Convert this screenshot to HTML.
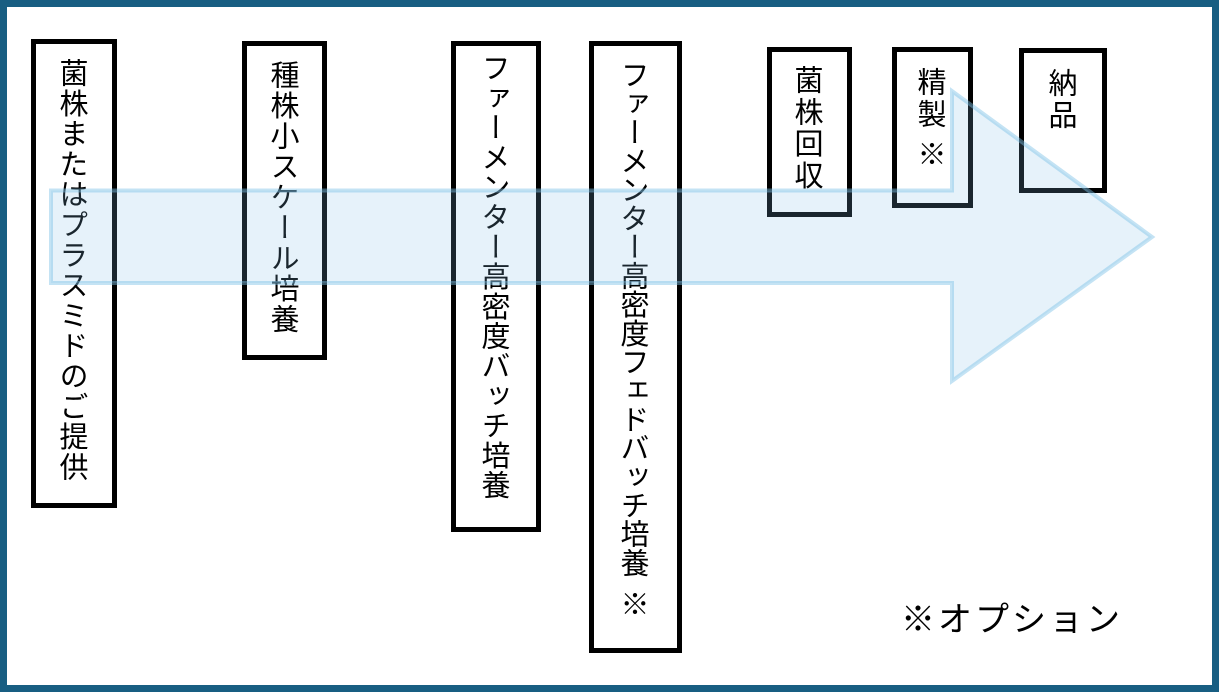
<!DOCTYPE html>
<html lang="ja">
<head>
<meta charset="utf-8">
<style>
  html, body { margin:0; padding:0; }
  body { width:1219px; height:692px; position:relative; overflow:hidden; background:#fff;
    font-family:"Liberation Sans","Noto Sans CJK JP",sans-serif; }
  .frame { position:absolute; left:0; top:0; width:1219px; height:692px; box-sizing:border-box;
    border:7px solid #185e82; }
  .box { position:absolute; box-sizing:border-box; border:5px solid #000; }
  .col { position:absolute; writing-mode:vertical-rl; font-size:29px; line-height:30px; width:30px;
    color:#000; white-space:nowrap; font-family:"Noto Sans CJK JP",sans-serif; }
  .opt { position:absolute; left:901px; top:597px; font-size:34px; line-height:40px; letter-spacing:3px;
    color:#000; white-space:nowrap; font-family:"Noto Sans CJK JP",sans-serif; }
  svg { position:absolute; left:0; top:0; }
</style>
</head>
<body>
<div class="frame"></div>

<div class="box" style="left:31px;top:39px;width:86px;height:469px;"></div>
<div class="box" style="left:242px;top:41px;width:85px;height:319px;"></div>
<div class="box" style="left:451px;top:41px;width:90px;height:491px;"></div>
<div class="box" style="left:589px;top:41px;width:93px;height:612px;"></div>
<div class="box" style="left:767px;top:47px;width:85px;height:170px;"></div>
<div class="box" style="left:892px;top:47px;width:81px;height:161px;"></div>
<div class="box" style="left:1019px;top:48px;width:88px;height:145px;"></div>

<div class="col" style="left:59px;top:58px;letter-spacing:1.3px;">菌株またはプラスミドのご提供</div>
<div class="col" style="left:270px;top:60px;letter-spacing:1.5px;">種株小スケール培養</div>
<div class="col" style="left:481px;top:53px;letter-spacing:0.8px;">ファーメンター高密度バッチ培養</div>
<div class="col" style="left:620px;top:60px;letter-spacing:-0.3px;">ファーメンター高密度フェドバッチ培養</div>
<div class="col" style="left:620px;top:589px;">※</div>
<div class="col" style="left:794px;top:65px;letter-spacing:2.8px;">菌株回収</div>
<div class="col" style="left:917px;top:67px;letter-spacing:3px;">精製</div>
<div class="col" style="left:917px;top:139px;">※</div>
<div class="col" style="left:1048px;top:68px;letter-spacing:3px;">納品</div>

<svg width="1219" height="692" viewBox="0 0 1219 692">
  <polygon points="51,190.5 952,190.5 952,91 1152,237 952,381 952,283 51,283"
    fill="rgb(132,190,228)" fill-opacity="0.2"
    stroke="rgb(124,193,230)" stroke-opacity="0.45" stroke-width="4" stroke-linejoin="miter"/>
</svg>

<div class="opt">※オプション</div>
</body>
</html>
